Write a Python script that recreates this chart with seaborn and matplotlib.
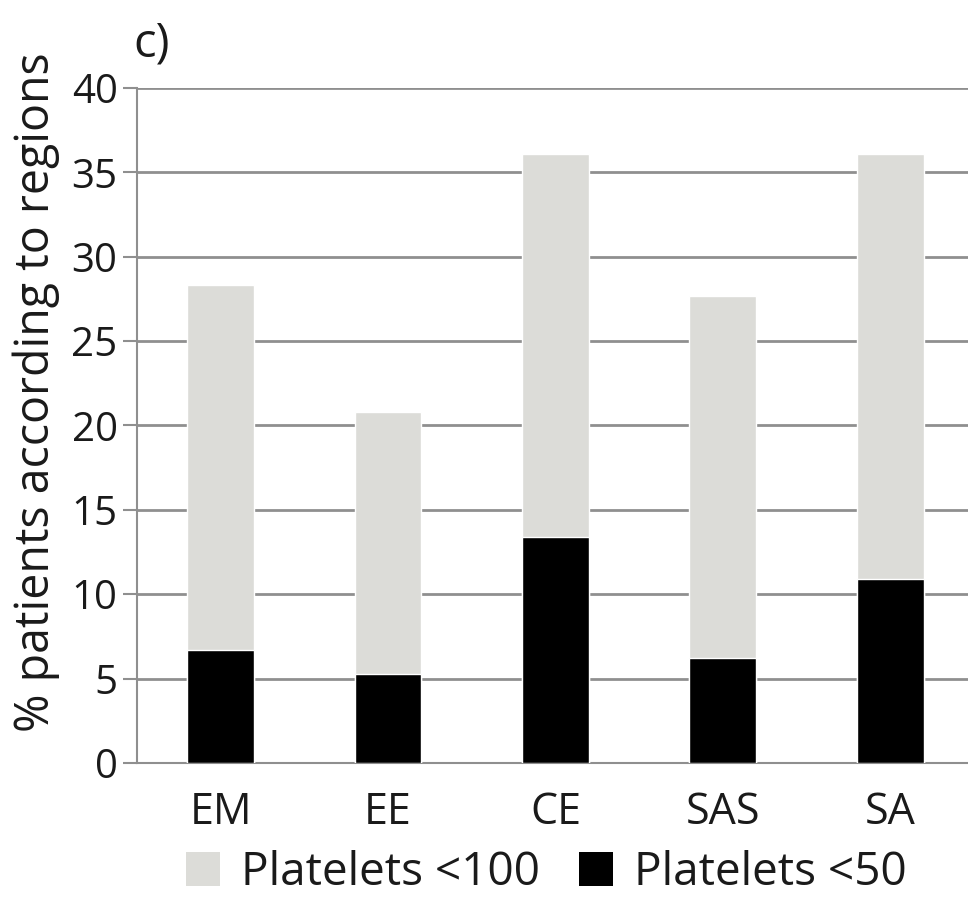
import matplotlib
matplotlib.use("Agg")
import matplotlib.pyplot as plt
import seaborn as sns
import pandas as pd
from matplotlib.patches import Patch

regions = ["EM", "EE", "CE", "SAS", "SA"]
platelets_100 = [28.3, 20.8, 36.1, 27.7, 36.1]
platelets_50 = [6.7, 5.3, 13.4, 6.2, 10.9]
series_labels = ["Platelets <100", "Platelets <50"]
yticks = [0, 5, 10, 15, 20, 25, 30, 35, 40]

df = pd.DataFrame({"region": regions, "p100": platelets_100, "p50": platelets_50})

sns.set_theme(style="white")
plt.rcParams["font.family"] = ["Open Sans", "DejaVu Sans"]

gray = "#dcdcd8"
grid = "#8f8f8f"
txt = "#1a1a1a"

fig = plt.figure(figsize=(9.68, 9.01), dpi=100)
ax = fig.add_axes([0.1415, 0.1532, 0.8645, 0.7492])

sns.barplot(data=df, x="region", y="p100", color=gray, width=0.4, ax=ax,
            saturation=1, zorder=3)
sns.barplot(data=df, x="region", y="p50", color="black", width=0.4, ax=ax,
            saturation=1, zorder=4)

ax.set_ylim(0, 40)
ax.set_xlim(-0.5, 4.5)
ax.set_yticks(yticks)
ax.yaxis.grid(True, color=grid, linewidth=2, zorder=0)
ax.set_axisbelow(True)
for s in ["top", "right"]:
    ax.spines[s].set_visible(False)
for s in ["left", "bottom"]:
    ax.spines[s].set_color(grid)
    ax.spines[s].set_linewidth(1.5)
ax.tick_params(axis="y", which="both", left=True, length=10, width=1.5,
               color=grid, labelsize=29, pad=4, labelcolor=txt)
ax.tick_params(axis="x", bottom=False, labelsize=31, pad=14, labelcolor=txt)
ax.set_xlabel("")
ax.set_ylabel("% patients according to regions", fontsize=33.5, color=txt)
ax.yaxis.set_label_coords(-0.092, 0.55)

fig.text(0.138, 0.951, "c)", fontsize=34, color=txt, va="center", ha="left")

handles = [Patch(facecolor=gray, edgecolor="none"),
           Patch(facecolor="black", edgecolor="none")]
fig.legend(handles, series_labels, loc="center", bbox_to_anchor=(0.564, 0.031),
           ncol=2, frameon=False, fontsize=33, handlelength=0.75, handleheight=0.75,
           handletextpad=0.45, columnspacing=0.85, labelcolor=txt,
           borderpad=0, borderaxespad=0)

fig.savefig("out.png", dpi=100)
